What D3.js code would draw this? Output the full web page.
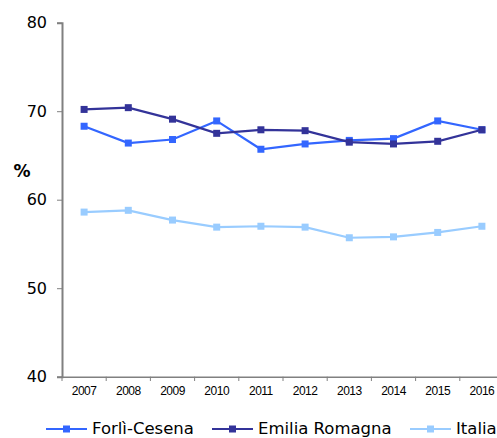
<!DOCTYPE html>
<html><head><meta charset="utf-8">
<script src="https://cdn.jsdelivr.net/npm/d3@7"></script>
<style>body{margin:0;background:#fff}svg{display:block}</style>
</head><body><svg id="c" width="497" height="438"></svg>
<script>
const years = ["2007","2008","2009","2010","2011","2012","2013","2014","2015","2016"];
const forliCesena = [68.3,66.4,66.8,68.9,65.7,66.3,66.7,66.9,68.9,67.9];
const emiliaRomagna = [70.2,70.4,69.1,67.5,67.9,67.8,66.5,66.3,66.6,67.9];
const italia = [58.6,58.8,57.7,56.9,57.0,56.9,55.7,55.8,56.3,57.0];
const seriesNames = ["Forlì-Cesena","Emilia Romagna","Italia"];
const yTicks = [40,50,60,70,80];
const colors = ["#3366FF","#333399","#99CCFF"];

const svg = d3.select("#c");
const x = d3.scaleBand().domain(years).range([62,504]);
const y = d3.scaleLinear().domain([40,80]).range([376.7,22.7]);
const axisColor = "#808080";

// y axis
const ya = svg.append("g").attr("transform","translate(62,0)")
  .call(d3.axisLeft(y).tickValues(yTicks).tickSize(5).tickPadding(10));
ya.select(".domain").attr("stroke",axisColor).attr("stroke-width",2);
ya.selectAll(".tick line").attr("stroke",axisColor);
ya.selectAll(".tick text").attr("font-family","DejaVu Sans, Verdana, sans-serif").attr("font-size",16).attr("fill","#000");

// x axis
const xa = svg.append("g").attr("transform","translate(0,376.7)")
  .call(d3.axisBottom(x).tickSize(0).tickPadding(10));
xa.select(".domain").attr("stroke",axisColor).attr("stroke-width",1.5);
xa.selectAll(".tick text").attr("font-family","Liberation Sans, Arial, sans-serif").attr("font-size",12).attr("fill","#000").attr("letter-spacing",-0.5);
svg.append("g").selectAll("line").data(years.concat(["end"])).join("line")
  .attr("x1",(d,i)=>62+i*x.bandwidth()).attr("x2",(d,i)=>62+i*x.bandwidth())
  .attr("y1",376.7).attr("y2",381).attr("stroke",axisColor);

// % label
svg.append("text").attr("x",22).attr("y",177).attr("text-anchor","middle")
  .attr("font-family","DejaVu Sans, Verdana, sans-serif").attr("font-size",17).attr("font-weight","bold").text("%");

const data = [forliCesena, emiliaRomagna, italia];
const line = d3.line().x((d,i)=>x(years[i])+x.bandwidth()/2).y(d=>y(d));
data.forEach((vals,k)=>{
  const g = svg.append("g");
  g.append("path").datum(vals).attr("d",line).attr("fill","none").attr("stroke",colors[k]).attr("stroke-width",2.2);
  g.selectAll("rect").data(vals).join("rect")
    .attr("x",(d,i)=>x(years[i])+x.bandwidth()/2-3.5).attr("y",d=>y(d)-3.5)
    .attr("width",7).attr("height",7).attr("fill",colors[k]);
});

// legend
const legX = [46,212,410];
const lg = svg.append("g");
seriesNames.forEach((n,k)=>{
  const gx = legX[k], gy = 429;
  lg.append("line").attr("x1",gx).attr("x2",gx+41).attr("y1",gy).attr("y2",gy).attr("stroke",colors[k]).attr("stroke-width",2.2);
  lg.append("rect").attr("x",gx+20.5-3.5).attr("y",gy-3.5).attr("width",7).attr("height",7).attr("fill",colors[k]);
  lg.append("text").attr("x",gx+46).attr("y",gy+5).attr("font-family","DejaVu Sans, Verdana, sans-serif").attr("font-size",16.5).attr("fill","#000").text(n);
});
</script></body></html>
